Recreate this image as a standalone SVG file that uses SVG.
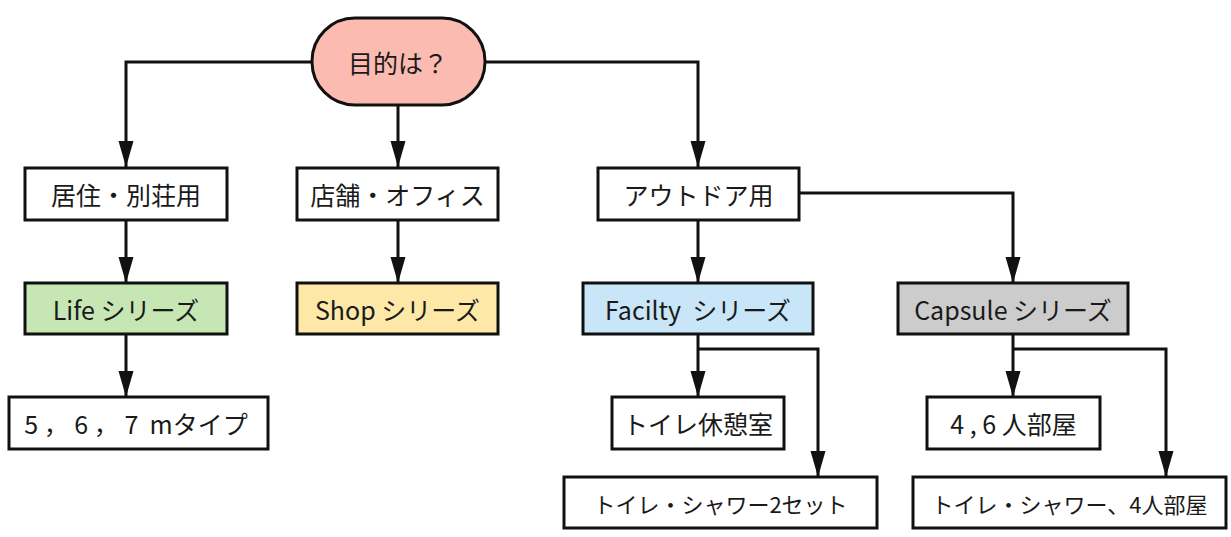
<svg xmlns="http://www.w3.org/2000/svg" width="1231" height="537" viewBox="0 0 1231 537">
<defs>
<style>
.box{stroke:#111;stroke-width:3;fill:#fff}
.t{font-family:"Noto Sans CJK JP","Noto Sans",sans-serif;font-size:25px;fill:#1a1a1a;text-anchor:middle;dominant-baseline:central}
.s{font-size:22px}
.c{fill:none;stroke:#111;stroke-width:3}
</style>
<marker id="ah" markerUnits="userSpaceOnUse" markerWidth="28" markerHeight="18" refX="26" refY="8" orient="auto">
<path d="M0,0.5 L26,8 L0,15.5 Z" fill="#111"/>
</marker>
</defs>
<rect width="1231" height="537" fill="#fff"/>
<g id="connectors">
<polyline class="c" points="312,62 126,62 126,167" marker-end="url(#ah)"/>
<polyline class="c" points="398,105 398,167" marker-end="url(#ah)"/>
<polyline class="c" points="485,62 698,62 698,167" marker-end="url(#ah)"/>
<polyline class="c" points="126,220 126,283" marker-end="url(#ah)"/>
<polyline class="c" points="398,220 398,283" marker-end="url(#ah)"/>
<polyline class="c" points="698,220 698,283" marker-end="url(#ah)"/>
<polyline class="c" points="799,193 1013,193 1013,283" marker-end="url(#ah)"/>
<polyline class="c" points="126,334 126,397" marker-end="url(#ah)"/>
<polyline class="c" points="698,334 698,397" marker-end="url(#ah)"/>
<polyline class="c" points="698,349 818,349 818,477" marker-end="url(#ah)"/>
<polyline class="c" points="1013,334 1013,397" marker-end="url(#ah)"/>
<polyline class="c" points="1013,349 1166,349 1166,477" marker-end="url(#ah)"/>
</g>
<g id="n-purpose">
<rect class="box" x="312" y="18" width="173" height="87" rx="43" ry="43" style="fill:#fbbbb1"/>
<text class="t" x="398" y="62">目的は？</text>
</g>
<g id="n-residence">
<rect class="box" x="25" y="168" width="202" height="52"/>
<text class="t" x="126" y="194">居住・別荘用</text>
</g>
<g id="n-shop-office">
<rect class="box" x="297" y="168" width="201" height="52"/>
<text class="t" x="397.5" y="194">店舗・オフィス</text>
</g>
<g id="n-outdoor">
<rect class="box" x="598" y="168" width="201" height="52"/>
<text class="t" x="698.5" y="194">アウトドア用</text>
</g>
<g id="n-life">
<rect class="box" x="25" y="283" width="202" height="51" style="fill:#c6e6b3"/>
<text class="t" x="126" y="308.5">Life シリーズ</text>
</g>
<g id="n-shop">
<rect class="box" x="297" y="283" width="201" height="51" style="fill:#fde8a8"/>
<text class="t" x="397.5" y="308.5">Shop シリーズ</text>
</g>
<g id="n-facility">
<rect class="box" x="583" y="283" width="230" height="51" style="fill:#c8e6f8"/>
<text class="t" x="698" y="308.5" xml:space="preserve">Facilty  シリーズ</text>
</g>
<g id="n-capsule">
<rect class="box" x="898" y="283" width="230" height="51" style="fill:#cccccc"/>
<text class="t" x="1013" y="308.5">Capsule シリーズ</text>
</g>
<g id="n-life-types">
<rect class="box" x="9" y="397" width="259" height="52"/>
<text class="t" x="136" y="423" xml:space="preserve">5 ， 6 ， 7  mタイプ</text>
</g>
<g id="n-toilet-rest">
<rect class="box" x="612" y="397" width="172" height="52"/>
<text class="t" x="698" y="423">トイレ休憩室</text>
</g>
<g id="n-rooms">
<rect class="box" x="927" y="397" width="173" height="52"/>
<text class="t" x="1013.5" y="423">4 , 6 人部屋</text>
</g>
<g id="n-toilet-shower">
<rect class="box" x="564" y="477" width="313" height="51"/>
<text class="t s" x="720.5" y="502.5">トイレ・シャワー2セット</text>
</g>
<g id="n-toilet-shower-4">
<rect class="box" x="913" y="477" width="313" height="51"/>
<text class="t s" x="1069.5" y="502.5">トイレ・シャワー、4人部屋</text>
</g>
</svg>
